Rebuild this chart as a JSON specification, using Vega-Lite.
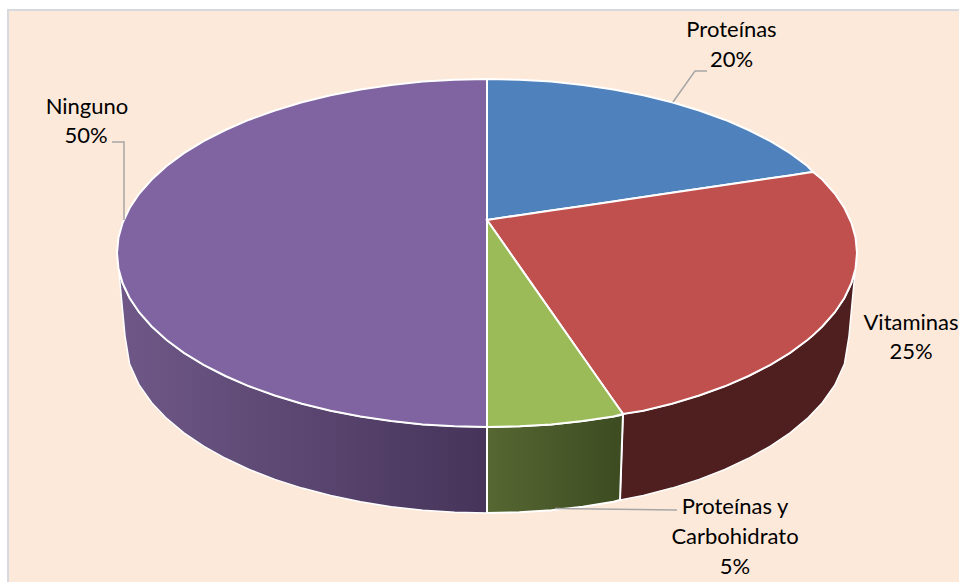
{
"$schema":"https://vega.github.io/schema/vega-lite/v6.json",
"width":959,"height":582,"padding":0,"autosize":{"type":"none"},
"background":"#ffffff",
"view":{"stroke":null},
"datasets":{
"panel":[{"x":-479,"x2":490,"y":10,"y2":600}],
"sideNinguno":[{"x":-368,"y":272,"y2":272},{"x":-364.4,"y":283.2,"y2":310.4},{"x":-362,"y":289,"y2":336},{"x":-357.4,"y":298,"y2":364.1},{"x":-347.7,"y":312.5,"y2":385.3},{"x":-335.3,"y":326.5,"y2":402.7},{"x":-320.4,"y":340,"y2":418.4},{"x":-303.1,"y":352.8,"y2":432.8},{"x":-283.4,"y":364.8,"y2":446.1},{"x":-261.6,"y":376,"y2":458.3},{"x":-237.8,"y":386.3,"y2":469.5},{"x":-212.2,"y":395.5,"y2":479.4},{"x":-185,"y":403.7,"y2":488.1},{"x":-156.4,"y":410.7,"y2":495.6},{"x":-126.5,"y":416.5,"y2":501.8},{"x":-95.8,"y":421.1,"y2":506.7},{"x":-64.2,"y":424.4,"y2":510.2},{"x":-32.3,"y":426.3,"y2":512.3},{"x":0,"y":427,"y2":513}],
"sideMixta":[{"x":0,"y":427,"y2":513},{"x":32.3,"y":426.3,"y2":512.3},{"x":64.2,"y":424.4,"y2":510.2},{"x":95.8,"y":421.1,"y2":506.7},{"x":126.5,"y":416.5,"y2":501.8},{"x":133,"y":415.3,"y2":500},{"x":136,"y":414,"y2":414}],
"sideVitaminas":[{"x":133,"y":500,"y2":500},{"x":136,"y":414,"y2":499.4},{"x":156.4,"y":410.7,"y2":495.6},{"x":185,"y":403.7,"y2":488.1},{"x":212.2,"y":395.5,"y2":479.4},{"x":237.8,"y":386.3,"y2":469.5},{"x":261.6,"y":376,"y2":458.3},{"x":283.4,"y":364.8,"y2":446.1},{"x":303.1,"y":352.8,"y2":432.8},{"x":320.4,"y":340,"y2":418.4},{"x":335.3,"y":326.5,"y2":402.7},{"x":347.7,"y":312.5,"y2":385.3},{"x":357.4,"y":298,"y2":364.1},{"x":362,"y":289,"y2":336},{"x":364.4,"y":283.2,"y2":310.4},{"x":368,"y":272,"y2":272}],
"topNinguno":[{"x":-370,"y":253,"y2":253},{"x":-368.6,"y":237.8,"y2":268.2},{"x":-364.4,"y":222.8,"y2":283.2},{"x":-357.4,"y":208,"y2":298},{"x":-347.7,"y":193.5,"y2":312.5},{"x":-335.3,"y":179.5,"y2":326.5},{"x":-320.4,"y":166,"y2":340},{"x":-303.1,"y":153.2,"y2":352.8},{"x":-283.4,"y":141.2,"y2":364.8},{"x":-261.6,"y":130,"y2":376},{"x":-237.8,"y":119.7,"y2":386.3},{"x":-212.2,"y":110.5,"y2":395.5},{"x":-185,"y":102.3,"y2":403.7},{"x":-156.4,"y":95.3,"y2":410.7},{"x":-126.5,"y":89.5,"y2":416.5},{"x":-95.8,"y":84.9,"y2":421.1},{"x":-64.2,"y":81.6,"y2":424.4},{"x":-32.3,"y":79.7,"y2":426.3},{"x":0,"y":79,"y2":427}],
"topProteinas":[{"x":0,"y":79,"y2":220},{"x":32.3,"y":79.7,"y2":215.2},{"x":64.2,"y":81.6,"y2":210.5},{"x":95.8,"y":84.9,"y2":205.9},{"x":126.5,"y":89.5,"y2":201.4},{"x":156.4,"y":95.3,"y2":197},{"x":185,"y":102.3,"y2":192.8},{"x":212.2,"y":110.5,"y2":188.8},{"x":237.8,"y":119.7,"y2":185},{"x":261.6,"y":130,"y2":181.5},{"x":283.4,"y":141.2,"y2":178.3},{"x":303.1,"y":153.2,"y2":175.4},{"x":320.4,"y":166,"y2":172.8},{"x":326,"y":172,"y2":172}],
"topVitaminas":[{"x":0,"y":220,"y2":220},{"x":32.3,"y":215.2,"y2":266.1},{"x":64.2,"y":210.5,"y2":311.6},{"x":95.8,"y":205.9,"y2":356.7},{"x":126.5,"y":201.4,"y2":400.5},{"x":136,"y":200,"y2":414},{"x":156.4,"y":197,"y2":410.7},{"x":185,"y":192.8,"y2":403.7},{"x":212.2,"y":188.8,"y2":395.5},{"x":237.8,"y":185,"y2":386.3},{"x":261.6,"y":181.5,"y2":376},{"x":283.4,"y":178.3,"y2":364.8},{"x":303.1,"y":175.4,"y2":352.8},{"x":320.4,"y":172.8,"y2":340},{"x":326,"y":172,"y2":335.3},{"x":335.3,"y":179.5,"y2":326.5},{"x":347.7,"y":193.5,"y2":312.5},{"x":357.4,"y":208,"y2":298},{"x":364.4,"y":222.8,"y2":283.2},{"x":368.6,"y":237.8,"y2":268.2},{"x":370,"y":253,"y2":253}],
"topMixta":[{"x":0,"y":220,"y2":427},{"x":32.3,"y":266.1,"y2":426.3},{"x":64.2,"y":311.6,"y2":424.4},{"x":95.8,"y":356.7,"y2":421.1},{"x":126.5,"y":400.5,"y2":416.5},{"x":136,"y":414,"y2":414}],
"leaders":[
{"slice":"Proteínas","i":0,"x":186,"y":102},{"slice":"Proteínas","i":1,"x":208,"y":71},{"slice":"Proteínas","i":2,"x":220,"y":71},
{"slice":"Ninguno","i":0,"x":-375,"y":142},{"slice":"Ninguno","i":1,"x":-363,"y":142},{"slice":"Ninguno","i":2,"x":-363,"y":220},
{"slice":"Proteínas y Carbohidrato","i":0,"x":68,"y":508.5},{"slice":"Proteínas y Carbohidrato","i":1,"x":190,"y":510}
],
"labels":[
{"slice":"Proteínas","line":"Proteínas","x":244.5,"y":30},
{"slice":"Proteínas","line":"20%","x":244.5,"y":60},
{"slice":"Ninguno","line":"Ninguno","x":-400,"y":107},
{"slice":"Ninguno","line":"50%","x":-401,"y":136},
{"slice":"Vitaminas","line":"Vitaminas","x":424,"y":323},
{"slice":"Vitaminas","line":"25%","x":424,"y":352},
{"slice":"Proteínas y Carbohidrato","line":"Proteínas y","x":248,"y":507},
{"slice":"Proteínas y Carbohidrato","line":"Carbohidrato","x":248,"y":537},
{"slice":"Proteínas y Carbohidrato","line":"5%","x":248,"y":567}
]
},
"encoding":{
"x":{"field":"x","type":"quantitative","scale":{"domain":[-487,472]},"axis":null},
"y":{"field":"y","type":"quantitative","scale":{"domain":[582,0]},"axis":null}
},
"layer":[
{"data":{"name":"panel"},"mark":{"type":"rect","fill":"#fde9d9","stroke":"#d6d9dd","strokeWidth":2},"encoding":{"x2":{"field":"x2"},"y2":{"field":"y2"}}},
{"data":{"name":"sideNinguno"},"mark":{"type":"area","stroke":"#ffffff","strokeWidth":1.5,"color":{"gradient":"linear","x1":0,"x2":1,"y1":0,"y2":0,"stops":[{"offset":0,"color":"#6f5887"},{"offset":1,"color":"#46345a"}]}},"encoding":{"y2":{"field":"y2"}}},
{"data":{"name":"sideVitaminas"},"mark":{"type":"area","stroke":"#ffffff","strokeWidth":1.5,"color":"#4e1f1e"},"encoding":{"y2":{"field":"y2"}}},
{"data":{"name":"sideMixta"},"mark":{"type":"area","stroke":"#ffffff","strokeWidth":2,"color":{"gradient":"linear","x1":0,"x2":1,"y1":0,"y2":0,"stops":[{"offset":0,"color":"#566732"},{"offset":1,"color":"#3d4b21"}]}},"encoding":{"y2":{"field":"y2"}}},
{"data":{"name":"topNinguno"},"mark":{"type":"area","color":"#8064a2","stroke":"#ffffff","strokeWidth":2},"encoding":{"y2":{"field":"y2"}}},
{"data":{"name":"topProteinas"},"mark":{"type":"area","color":"#4f81bd","stroke":"#ffffff","strokeWidth":2},"encoding":{"y2":{"field":"y2"}}},
{"data":{"name":"topVitaminas"},"mark":{"type":"area","color":"#c0504d","stroke":"#ffffff","strokeWidth":2},"encoding":{"y2":{"field":"y2"}}},
{"data":{"name":"topMixta"},"mark":{"type":"area","color":"#9bbb59","stroke":"#ffffff","strokeWidth":2},"encoding":{"y2":{"field":"y2"}}},
{"data":{"name":"leaders"},"mark":{"type":"line","color":"#a6a6a6","strokeWidth":1.5},"encoding":{"detail":{"field":"slice"},"order":{"field":"i","type":"ordinal"}}},
{"data":{"name":"labels"},"mark":{"type":"text","font":"Lato","fontSize":22,"color":"#000000","baseline":"middle","align":"center"},"encoding":{"text":{"field":"line"}}}
]
}
